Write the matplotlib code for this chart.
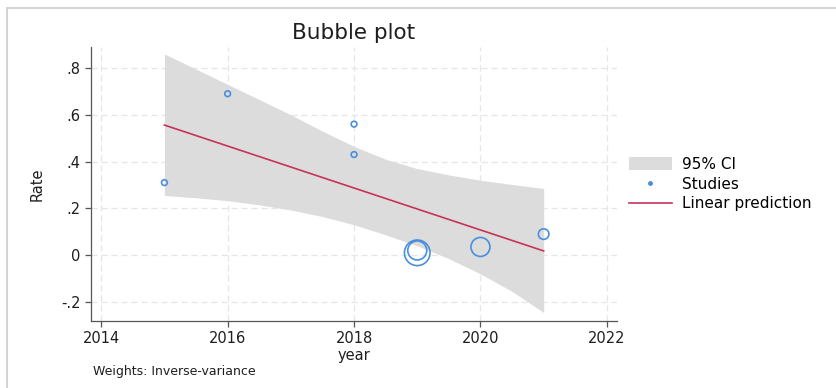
import matplotlib
matplotlib.use("Agg")
import matplotlib.pyplot as plt
from matplotlib.patches import Patch, Rectangle
from matplotlib.lines import Line2D
from matplotlib.ticker import FuncFormatter

# ---------------- study data ----------------
study_year = [2015, 2016, 2018, 2018, 2019, 2019, 2020, 2021]
study_rate = [0.31, 0.69, 0.56, 0.43, 0.01, 0.02, 0.035, 0.09]
study_weight = [1.0, 1.0, 1.0, 1.0, 20.0, 11.0, 11.0, 3.4]   # relative inverse-variance weight

# ---------------- fitted line and 95% CI ----------------
pred_year = [2015, 2021]
pred_rate = [0.556, 0.018]

ci_year  = [2015, 2015.5, 2016, 2016.5, 2017, 2017.5, 2018, 2018.5, 2019, 2019.5, 2020, 2020.5, 2021]
ci_upper = [0.86, 0.795, 0.73, 0.665, 0.60, 0.53, 0.465, 0.41, 0.37, 0.343, 0.32, 0.302, 0.285]
ci_lower = [0.255, 0.245, 0.233, 0.215, 0.193, 0.165, 0.13, 0.087, 0.04, -0.015, -0.08, -0.155, -0.245]

x_ticks = [2014, 2016, 2018, 2020, 2022]
y_ticks = [-0.2, 0, 0.2, 0.4, 0.6, 0.8]

blue = "#4a8fdc"
red = "#c8325a"
band = "#dcdcdc"
spine_col = "#555555"

fig = plt.figure(figsize=(8.36, 3.88), dpi=100)
ax = fig.add_axes([0.109, 0.173, 0.629, 0.706])

# outer frame
fig.patches.append(Rectangle((7 / 836, -0.05), 1.2, 1 - 8 / 388 + 0.05,
                             transform=fig.transFigure, fill=False,
                             edgecolor="#d4d4d4", linewidth=1.5))

ax.fill_between(ci_year, ci_lower, ci_upper, color=band, linewidth=0, zorder=1)
ax.plot(pred_year, pred_rate, color=red, linewidth=1.2, zorder=3)
ax.scatter(study_year, study_rate, s=[w * 17 for w in study_weight],
           facecolors="none", edgecolors=blue, linewidths=1.2, zorder=4)

ax.set_xlim(2013.84, 2022.16)
ax.set_ylim(-0.281, 0.89)
ax.set_xticks(x_ticks)
ax.set_yticks(y_ticks)


def fmt_rate(v, pos):
    if abs(v) < 1e-9:
        return "0"
    s = f"{v:.1f}"
    return s.replace("0.", ".")


ax.yaxis.set_major_formatter(FuncFormatter(fmt_rate))
ax.tick_params(labelsize=10.5, length=4, width=0.9, color=spine_col, labelcolor="#1e1e1e")
ax.grid(True, color="#e6e6e6", linestyle=(0, (5, 3)), linewidth=0.9, zorder=0)
ax.set_axisbelow(True)

for side in ["top", "right"]:
    ax.spines[side].set_visible(False)
for side in ["left", "bottom"]:
    ax.spines[side].set_color(spine_col)
    ax.spines[side].set_linewidth(0.9)

ax.set_xlabel("year", fontsize=10.5, labelpad=1, color="#1e1e1e")
ax.set_ylabel("Rate", fontsize=10.5, labelpad=12, color="#1e1e1e")
ax.set_title("Bubble plot", fontsize=15.5, pad=6, color="#1e1e1e")

handles = [
    Patch(facecolor=band, edgecolor="none"),
    Line2D([], [], marker="o", linestyle="none", markersize=2.5, color=blue),
    Line2D([], [], color=red, linewidth=1.2),
]
labels = ["95% CI", "Studies", "Linear prediction"]
fig.legend(handles, labels, loc="upper left", bbox_to_anchor=(0.745, 0.612),
           frameon=False, fontsize=11, handlelength=2.8, handleheight=0.9,
           handletextpad=0.7, labelspacing=0.32, borderaxespad=0)

fig.text(93 / 836, 1 - 372 / 388, "Weights: Inverse-variance", fontsize=9,
         va="center", ha="left", color="#1e1e1e")

fig.savefig("out.png", dpi=100)
